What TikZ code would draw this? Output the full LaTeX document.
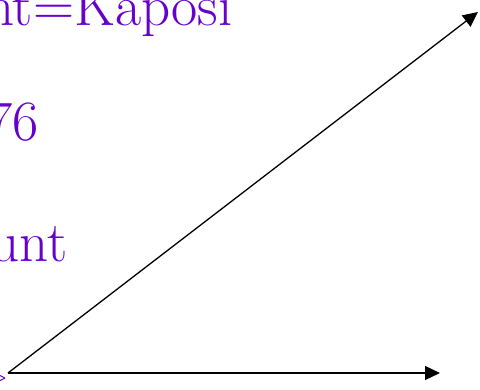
\documentclass[tikz,border=0pt]{standalone}
\usetikzlibrary{arrows.meta}
\definecolor{labelpurple}{RGB}{102,0,204}

\begin{document}
\begin{tikzpicture}[
        x=1pt, y=1pt,
        every node/.style={
            inner sep=0pt,
            anchor=base west,
            text=labelpurple,
            font=\fontsize{57}{64}\selectfont
        },
        arrow/.style={line width=1.3pt,-{Triangle[length=15pt,width=14pt]}}
    ]

    % Frame
    \useasboundingbox (0,0) rectangle (480,390);
    \clip (0,0) rectangle (480,390);

    % Labels
    \node (kaposi) at (-15,364) {nt=Kaposi};
    \node (num) at (-14,249) {76};
    \node (count) at (-10,128) {unt};

    % Axes
    \coordinate (origin) at (8,17);
    \coordinate (diag) at (478,378);
    \coordinate (horiz) at (440,17);
    \draw [arrow] (origin) -- (diag);
    \draw [arrow] (origin) -- (horiz);

    % Stray tip
    \coordinate (stray) at (5,12);
    \draw [labelpurple, line width=1pt] (stray) -- ++(-6,3) (stray) -- ++(-6,-3);

    \end{tikzpicture}
\end{document}
